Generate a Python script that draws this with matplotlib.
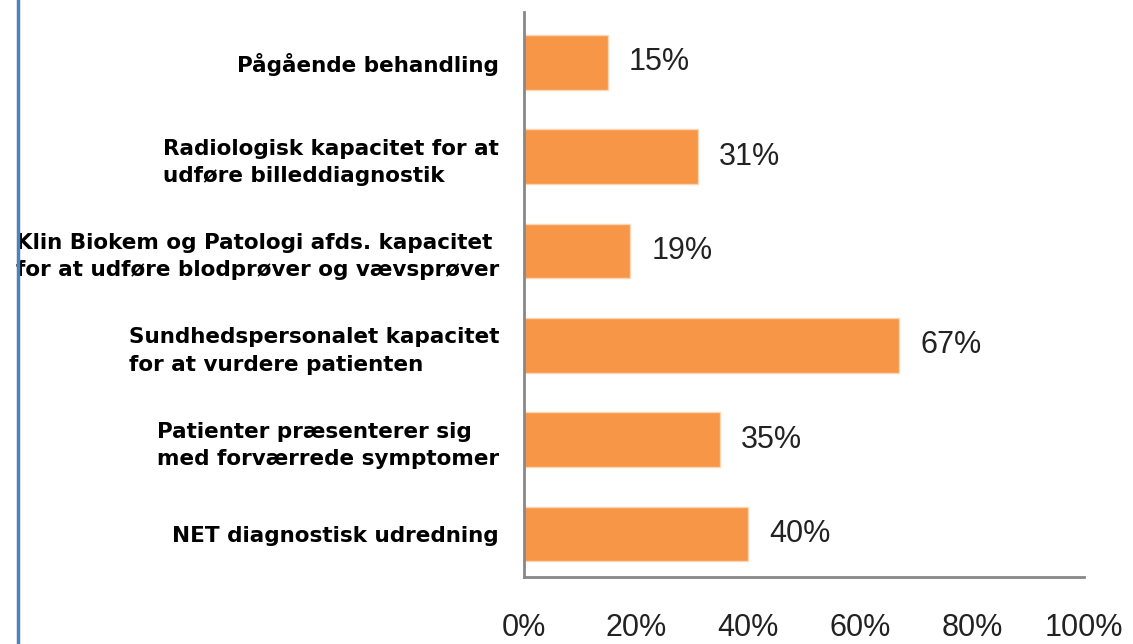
import matplotlib.pyplot as plt
from matplotlib.lines import Line2D

categories = [
    'Pågående behandling',
    'Radiologisk kapacitet for at\nudføre billeddiagnostik',
    'Klin Biokem og Patologi afds. kapacitet\nfor at udføre blodprøver og vævsprøver',
    'Sundhedspersonalet kapacitet\nfor at vurdere patienten',
    'Patienter præsenterer sig\nmed forværrede symptomer',
    'NET diagnostisk udredning',
]
values = [15, 31, 19, 67, 35, 40]
xticks = [0, 20, 40, 60, 80, 100]
xtick_labels = ['0%', '20%', '40%', '60%', '80%', '100%']

fig = plt.figure(figsize=(11.33, 6.44), dpi=100)
ax = fig.add_axes([0.4625, 0.104, 0.4943, 0.877])

bars = ax.barh(range(len(categories)), values, height=0.58,
               color='#F79646', edgecolor='#FCD5B5', linewidth=1)
ax.bar_label(bars, labels=[f'{v}%' for v in values], padding=15,
             fontsize=22, color='#222222', family='Liberation Sans')

ax.set_yticks(range(len(categories)))
ax.set_yticklabels(categories, fontsize=15.5, fontweight='bold',
                   family='DejaVu Sans', multialignment='left', linespacing=1.45)
ax.set_ylim(5.455, -0.53)

ax.set_xlim(0, 100)
ax.set_xticks(xticks)
ax.set_xticklabels(xtick_labels, fontsize=22, color='#222222', family='Liberation Sans')

ax.tick_params(axis='y', length=0, pad=18)
ax.tick_params(axis='x', length=0, pad=26)

for s in ['top', 'right']:
    ax.spines[s].set_visible(False)
for s in ['left', 'bottom']:
    ax.spines[s].set_color('#888888')
    ax.spines[s].set_linewidth(2)

# blue line on the far left
fig.add_artist(Line2D([18 / 1133, 18 / 1133], [0, 1], color='#4F81BD', linewidth=2.5))

fig.savefig('out.png', dpi=100)
